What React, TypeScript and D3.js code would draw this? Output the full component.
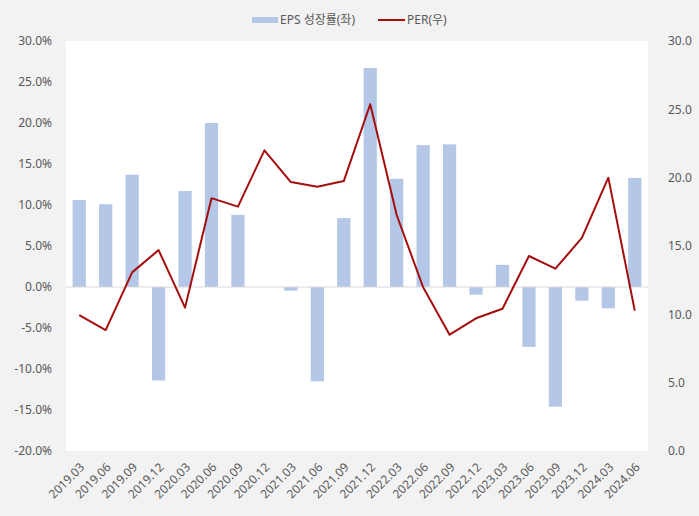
import React, { useEffect, useRef } from 'react';
import * as d3 from 'd3';

const categories: string[] = [
  '2019.03', '2019.06', '2019.09', '2019.12', '2020.03', '2020.06', '2020.09', '2020.12',
  '2021.03', '2021.06', '2021.09', '2021.12', '2022.03', '2022.06', '2022.09', '2022.12',
  '2023.03', '2023.06', '2023.09', '2023.12', '2024.03', '2024.06',
];

// EPS growth (%), left axis
const epsGrowth: number[] = [
  10.6, 10.1, 13.7, -11.4, 11.7, 20.0, 8.8, 0, -0.45, -11.5, 8.4,
  26.7, 13.2, 17.3, 17.4, -0.94, 2.7, -7.3, -14.6, -1.67, -2.6, 13.3,
];

// PER, right axis
const per: number[] = [
  9.95, 8.85, 13.07, 14.7, 10.49, 18.5, 17.88, 22.0, 19.68, 19.34, 19.75,
  25.37, 17.27, 11.98, 8.51, 9.71, 10.41, 14.27, 13.34, 15.59, 20.0, 10.27,
];

const leftTicks: number[] = [-20, -15, -10, -5, 0, 5, 10, 15, 20, 25, 30];
const rightTicks: number[] = [0, 5, 10, 15, 20, 25, 30];

const W = 699;
const H = 516;
const margin = { left: 66, top: 41, right: 51, bottom: 65 };
const FONT = '"Noto Sans", "Noto Sans CJK KR", sans-serif';
const BAR = '#b4c7e7';
const LINE = '#a50e0e';
const TEXT = '#595959';

const App = () => {
  const ref = useRef<SVGSVGElement | null>(null);

  useEffect(() => {
    const svg = d3.select(ref.current);
    svg.selectAll('*').remove();
    const pw = W - margin.left - margin.right;
    const ph = H - margin.top - margin.bottom;

    const x = d3.scaleBand().domain(categories).range([margin.left, margin.left + pw]).paddingInner(0.5).paddingOuter(0.25);
    const yL = d3.scaleLinear().domain([-20, 30]).range([margin.top + ph, margin.top]);
    const yR = d3.scaleLinear().domain([0, 30]).range([margin.top + ph, margin.top]);

    svg.append('rect').attr('width', W).attr('height', H).attr('fill', '#f2f2f2');
    svg.append('rect')
      .attr('x', margin.left).attr('y', margin.top)
      .attr('width', pw).attr('height', ph).attr('fill', '#ffffff');

    // bars
    svg.append('g').selectAll('rect').data(epsGrowth).join('rect')
      .attr('x', (_, i) => x(categories[i])!)
      .attr('width', x.bandwidth())
      .attr('y', (d) => Math.min(yL(d), yL(0)))
      .attr('height', (d) => Math.abs(yL(d) - yL(0)))
      .attr('fill', BAR);

    // zero line
    svg.append('line')
      .attr('x1', margin.left).attr('x2', margin.left + pw)
      .attr('y1', yL(0)).attr('y2', yL(0))
      .attr('stroke', '#d9d9d9').attr('stroke-width', 1);

    // PER line
    const line = d3.line<number>()
      .x((_, i) => x(categories[i])! + x.bandwidth() / 2)
      .y((d) => yR(d));
    svg.append('path').datum(per).attr('d', line)
      .attr('fill', 'none').attr('stroke', LINE).attr('stroke-width', 2).attr('stroke-linejoin', 'round');

    // left axis labels
    svg.append('g').selectAll('text').data(leftTicks).join('text')
      .attr('x', 52).attr('y', (d) => yL(d)).attr('dy', '0.35em')
      .attr('text-anchor', 'end').attr('font-size', 12).attr('fill', TEXT)
      .attr('font-family', FONT)
      .text((d) => d.toFixed(1) + '%');

    // right axis labels
    svg.append('g').selectAll('text').data(rightTicks).join('text')
      .attr('x', 668).attr('y', (d) => yR(d)).attr('dy', '0.35em')
      .attr('text-anchor', 'start').attr('font-size', 12).attr('fill', TEXT)
      .attr('font-family', FONT)
      .text((d) => d.toFixed(1));

    // x labels
    svg.append('g').selectAll('text').data(categories).join('text')
      .attr('transform', (d) => `translate(${x(d)! + x.bandwidth() / 2},${margin.top + ph + 11}) rotate(-45)`)
      .attr('text-anchor', 'end').attr('dy', '0.7em')
      .attr('font-size', 12).attr('fill', TEXT).attr('font-family', FONT)
      .text((d) => d);

    // legend
    const lg = svg.append('g').attr('font-family', FONT).attr('font-size', 12).attr('fill', TEXT);
    lg.append('rect').attr('x', 252).attr('y', 17).attr('width', 26).attr('height', 6).attr('fill', BAR);
    lg.append('text').attr('x', 280).attr('y', 20).attr('dy', '0.35em').text('EPS 성장률(좌)');
    lg.append('line').attr('x1', 378).attr('x2', 405).attr('y1', 20).attr('y2', 20)
      .attr('stroke', LINE).attr('stroke-width', 2);
    lg.append('text').attr('x', 407).attr('y', 20).attr('dy', '0.35em').text('PER(우)');
  }, []);

  return <svg ref={ref} width={W} height={H} style={{ display: 'block', position: 'absolute', left: 0, top: 0 }} />;
};

export default App;
